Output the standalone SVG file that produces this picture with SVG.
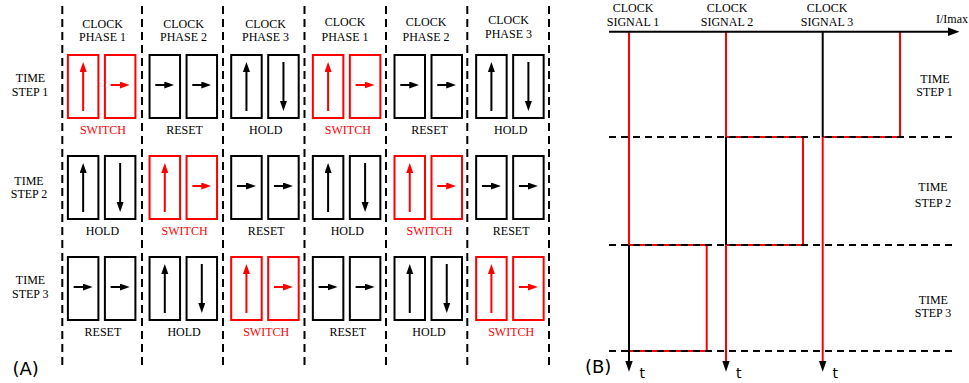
<svg xmlns="http://www.w3.org/2000/svg" xmlns:xlink="http://www.w3.org/1999/xlink" width="969" height="383" viewBox="0 0 969 383">
<style>
.bk{fill:none;stroke:#000;stroke-width:2}
.rd{fill:none;stroke:#f00;stroke-width:2}
.ak{stroke:#000;stroke-width:2;marker-end:url(#mk)}
.ar{stroke:#f00;stroke-width:2;marker-end:url(#mr)}
.t{font-family:"Liberation Serif","Times New Roman",serif;font-size:12px;text-anchor:middle;fill:#000}
.tr{fill:#f00}
.vd{stroke:#000;stroke-width:2;stroke-dasharray:8 5}
.hd{stroke:#000;stroke-width:2;stroke-dasharray:7 5}
.sk{stroke:#000;stroke-width:2}
.sr{stroke:#f00;stroke-width:2}
.sans{font-family:"DejaVu Sans",sans-serif;fill:#000}
</style>
<defs>
<marker id="mk" markerUnits="userSpaceOnUse" markerWidth="10" markerHeight="8" refX="6" refY="3.5" orient="auto"><path d="M0,0 L10,3.5 L0,7 z" fill="#000"/></marker>
<marker id="mr" markerUnits="userSpaceOnUse" markerWidth="10" markerHeight="8" refX="6" refY="3.5" orient="auto"><path d="M0,0 L10,3.5 L0,7 z" fill="#f00"/></marker>
</defs>
<rect width="969" height="383" fill="#fff"/>

<!-- Panel A grid -->
<g id="grid-a">
<line class="vd" x1="62.3" y1="6" x2="62.3" y2="370"/>
<line class="vd" x1="142" y1="6" x2="142" y2="370"/>
<line class="vd" x1="223" y1="6" x2="223" y2="370"/>
<line class="vd" x1="304.5" y1="6" x2="304.5" y2="370"/>
<line class="vd" x1="386" y1="6" x2="386" y2="370"/>
<line class="vd" x1="467.3" y1="6" x2="467.3" y2="370"/>
<line class="vd" x1="549" y1="6" x2="549" y2="370"/>
</g>

<g id="headers-a">
<text class="t" x="102.5" y="28.3">CLOCK</text><text class="t" x="102.5" y="40.7">PHASE 1</text>
<text class="t" x="183.5" y="28.3">CLOCK</text><text class="t" x="183.5" y="40.7">PHASE 2</text>
<text class="t" x="265.5" y="28.3">CLOCK</text><text class="t" x="265.5" y="40.7">PHASE 3</text>
<text class="t" x="345" y="26">CLOCK</text><text class="t" x="345" y="40.5">PHASE 1</text>
<text class="t" x="426" y="26">CLOCK</text><text class="t" x="426" y="40.5">PHASE 2</text>
<text class="t" x="508.5" y="23.5">CLOCK</text><text class="t" x="508.5" y="38.3">PHASE 3</text>
</g>

<g id="steps-a">
<text class="t" x="30.5" y="81.7">TIME</text><text class="t" x="30" y="95.7">STEP 1</text>
<text class="t" x="29" y="185">TIME</text><text class="t" x="29" y="198.3">STEP 2</text>
<text class="t" x="30.5" y="284">TIME</text><text class="t" x="30.3" y="298.3">STEP 3</text>
</g>

<!-- Row 1 -->
<g id="c1r1" transform="translate(101.4,54)">
<rect class="rd" x="-33.5" y="1" width="30.5" height="63"/><rect class="rd" x="3.5" y="1" width="30.5" height="63"/>
<line class="ar" x1="-18.25" y1="57" x2="-18.25" y2="12"/><line class="ar" x1="9.25" y1="31" x2="24.25" y2="31"/>
<text class="t tr" x="1.5" y="80">SWITCH</text></g>
<g id="c2r1" transform="translate(183.05,54)">
<rect class="bk" x="-33.5" y="1" width="30.5" height="63"/><rect class="bk" x="3.5" y="1" width="30.5" height="63"/>
<line class="ak" x1="-27.75" y1="31" x2="-12.75" y2="31"/><line class="ak" x1="9.25" y1="31" x2="24.25" y2="31"/>
<text class="t" x="1.5" y="80">RESET</text></g>
<g id="c3r1" transform="translate(264.7,54)">
<rect class="bk" x="-33.5" y="1" width="30.5" height="63"/><rect class="bk" x="3.5" y="1" width="30.5" height="63"/>
<line class="ak" x1="-18.25" y1="57" x2="-18.25" y2="12"/><line class="ak" x1="18.75" y1="8" x2="18.75" y2="53"/>
<text class="t" x="1" y="80">HOLD</text></g>
<g id="c4r1" transform="translate(346.35,54)">
<rect class="rd" x="-33.5" y="1" width="30.5" height="63"/><rect class="rd" x="3.5" y="1" width="30.5" height="63"/>
<line class="ar" x1="-18.25" y1="57" x2="-18.25" y2="12"/><line class="ar" x1="9.25" y1="31" x2="24.25" y2="31"/>
<text class="t tr" x="1.5" y="80">SWITCH</text></g>
<g id="c5r1" transform="translate(428,54)">
<rect class="bk" x="-33.5" y="1" width="30.5" height="63"/><rect class="bk" x="3.5" y="1" width="30.5" height="63"/>
<line class="ak" x1="-27.75" y1="31" x2="-12.75" y2="31"/><line class="ak" x1="9.25" y1="31" x2="24.25" y2="31"/>
<text class="t" x="1.5" y="80">RESET</text></g>
<g id="c6r1" transform="translate(509.65,54)">
<rect class="bk" x="-33.5" y="1" width="30.5" height="63"/><rect class="bk" x="3.5" y="1" width="30.5" height="63"/>
<line class="ak" x1="-18.25" y1="57" x2="-18.25" y2="12"/><line class="ak" x1="18.75" y1="8" x2="18.75" y2="53"/>
<text class="t" x="1" y="80">HOLD</text></g>

<!-- Row 2 -->
<g id="c1r2" transform="translate(101.4,155)">
<rect class="bk" x="-33.5" y="1" width="30.5" height="63"/><rect class="bk" x="3.5" y="1" width="30.5" height="63"/>
<line class="ak" x1="-18.25" y1="57" x2="-18.25" y2="12"/><line class="ak" x1="18.75" y1="8" x2="18.75" y2="53"/>
<text class="t" x="1" y="80">HOLD</text></g>
<g id="c2r2" transform="translate(183.05,155)">
<rect class="rd" x="-33.5" y="1" width="30.5" height="63"/><rect class="rd" x="3.5" y="1" width="30.5" height="63"/>
<line class="ar" x1="-18.25" y1="57" x2="-18.25" y2="12"/><line class="ar" x1="9.25" y1="31" x2="24.25" y2="31"/>
<text class="t tr" x="1.5" y="80">SWITCH</text></g>
<g id="c3r2" transform="translate(264.7,155)">
<rect class="bk" x="-33.5" y="1" width="30.5" height="63"/><rect class="bk" x="3.5" y="1" width="30.5" height="63"/>
<line class="ak" x1="-27.75" y1="31" x2="-12.75" y2="31"/><line class="ak" x1="9.25" y1="31" x2="24.25" y2="31"/>
<text class="t" x="1.5" y="80">RESET</text></g>
<g id="c4r2" transform="translate(346.35,155)">
<rect class="bk" x="-33.5" y="1" width="30.5" height="63"/><rect class="bk" x="3.5" y="1" width="30.5" height="63"/>
<line class="ak" x1="-18.25" y1="57" x2="-18.25" y2="12"/><line class="ak" x1="18.75" y1="8" x2="18.75" y2="53"/>
<text class="t" x="1" y="80">HOLD</text></g>
<g id="c5r2" transform="translate(428,155)">
<rect class="rd" x="-33.5" y="1" width="30.5" height="63"/><rect class="rd" x="3.5" y="1" width="30.5" height="63"/>
<line class="ar" x1="-18.25" y1="57" x2="-18.25" y2="12"/><line class="ar" x1="9.25" y1="31" x2="24.25" y2="31"/>
<text class="t tr" x="1.5" y="80">SWITCH</text></g>
<g id="c6r2" transform="translate(509.65,155)">
<rect class="bk" x="-33.5" y="1" width="30.5" height="63"/><rect class="bk" x="3.5" y="1" width="30.5" height="63"/>
<line class="ak" x1="-27.75" y1="31" x2="-12.75" y2="31"/><line class="ak" x1="9.25" y1="31" x2="24.25" y2="31"/>
<text class="t" x="1.5" y="80">RESET</text></g>

<!-- Row 3 -->
<g id="c1r3" transform="translate(101.4,256)">
<rect class="bk" x="-33.5" y="1" width="30.5" height="63"/><rect class="bk" x="3.5" y="1" width="30.5" height="63"/>
<line class="ak" x1="-27.75" y1="31" x2="-12.75" y2="31"/><line class="ak" x1="9.25" y1="31" x2="24.25" y2="31"/>
<text class="t" x="1.5" y="80">RESET</text></g>
<g id="c2r3" transform="translate(183.05,256)">
<rect class="bk" x="-33.5" y="1" width="30.5" height="63"/><rect class="bk" x="3.5" y="1" width="30.5" height="63"/>
<line class="ak" x1="-18.25" y1="57" x2="-18.25" y2="12"/><line class="ak" x1="18.75" y1="8" x2="18.75" y2="53"/>
<text class="t" x="1" y="80">HOLD</text></g>
<g id="c3r3" transform="translate(264.7,256)">
<rect class="rd" x="-33.5" y="1" width="30.5" height="63"/><rect class="rd" x="3.5" y="1" width="30.5" height="63"/>
<line class="ar" x1="-18.25" y1="57" x2="-18.25" y2="12"/><line class="ar" x1="9.25" y1="31" x2="24.25" y2="31"/>
<text class="t tr" x="1.5" y="80">SWITCH</text></g>
<g id="c4r3" transform="translate(346.35,256)">
<rect class="bk" x="-33.5" y="1" width="30.5" height="63"/><rect class="bk" x="3.5" y="1" width="30.5" height="63"/>
<line class="ak" x1="-27.75" y1="31" x2="-12.75" y2="31"/><line class="ak" x1="9.25" y1="31" x2="24.25" y2="31"/>
<text class="t" x="1.5" y="80">RESET</text></g>
<g id="c5r3" transform="translate(428,256)">
<rect class="bk" x="-33.5" y="1" width="30.5" height="63"/><rect class="bk" x="3.5" y="1" width="30.5" height="63"/>
<line class="ak" x1="-18.25" y1="57" x2="-18.25" y2="12"/><line class="ak" x1="18.75" y1="8" x2="18.75" y2="53"/>
<text class="t" x="1" y="80">HOLD</text></g>
<g id="c6r3" transform="translate(509.65,256)">
<rect class="rd" x="-33.5" y="1" width="30.5" height="63"/><rect class="rd" x="3.5" y="1" width="30.5" height="63"/>
<line class="ar" x1="-18.25" y1="57" x2="-18.25" y2="12"/><line class="ar" x1="9.25" y1="31" x2="24.25" y2="31"/>
<text class="t tr" x="1.5" y="80">SWITCH</text></g>

<text class="sans" x="12.5" y="375" font-size="18">(A)</text>

<!-- Panel B -->
<g id="signals-b">
<path class="rd" d="M629,245 H706.7 V351 H629"/>
<path class="rd" d="M726,137 H803 V245 H726"/>
<path class="rd" d="M822.7,137 H900 V31.7"/>
<line class="sr" x1="629" y1="31.7" x2="629" y2="245"/>
<line class="sk" x1="629" y1="245" x2="629" y2="362"/>
<line class="sr" x1="726" y1="31.7" x2="726" y2="137"/>
<line class="sk" x1="726" y1="137" x2="726" y2="245"/>
<line class="sr" x1="726" y1="245" x2="726" y2="362"/>
<line class="sk" x1="822.7" y1="31.7" x2="822.7" y2="137"/>
<line class="sr" x1="822.7" y1="137" x2="822.7" y2="362"/>
<polygon points="625.3,361 632.7,361 629,371.7" fill="#000"/>
<polygon points="722.3,361 729.7,361 726,371.7" fill="#000"/>
<polygon points="819,361 826.4,361 822.7,371.7" fill="#000"/>
</g>
<g id="axis-b">
<line class="sk" x1="609" y1="31.7" x2="950" y2="31.7"/>
<polygon points="948,27.5 959.5,31.7 948,36" fill="#000"/>
<line class="hd" x1="609" y1="137" x2="952" y2="137"/>
<line class="hd" x1="609" y1="245" x2="952" y2="245"/>
<line class="hd" x1="609" y1="351" x2="952" y2="351"/>
</g>
<g id="labels-b">
<text class="t" x="633" y="11.7">CLOCK</text><text class="t" x="633" y="25.7">SIGNAL 1</text>
<text class="t" x="727" y="11.7">CLOCK</text><text class="t" x="727" y="25.7">SIGNAL 2</text>
<text class="t" x="827" y="11.7">CLOCK</text><text class="t" x="827" y="25.7">SIGNAL 3</text>
<text class="t" x="952" y="23.3" font-size="11.5">I/Imax</text>
<text class="t" x="935" y="82.7">TIME</text><text class="t" x="934.5" y="96">STEP 1</text>
<text class="t" x="933" y="190.7" font-size="13">TIME</text><text class="t" x="933" y="206.7" font-size="12.5">STEP 2</text>
<text class="t" x="933.3" y="304">TIME</text><text class="t" x="933" y="317.3">STEP 3</text>
<text class="sans" x="642.2" y="378" font-size="14" text-anchor="middle">t</text>
<text class="sans" x="738.7" y="378" font-size="14" text-anchor="middle">t</text>
<text class="sans" x="835.3" y="378" font-size="14" text-anchor="middle">t</text>
<text class="sans" x="585" y="373" font-size="18">(B)</text>
</g>
</svg>
